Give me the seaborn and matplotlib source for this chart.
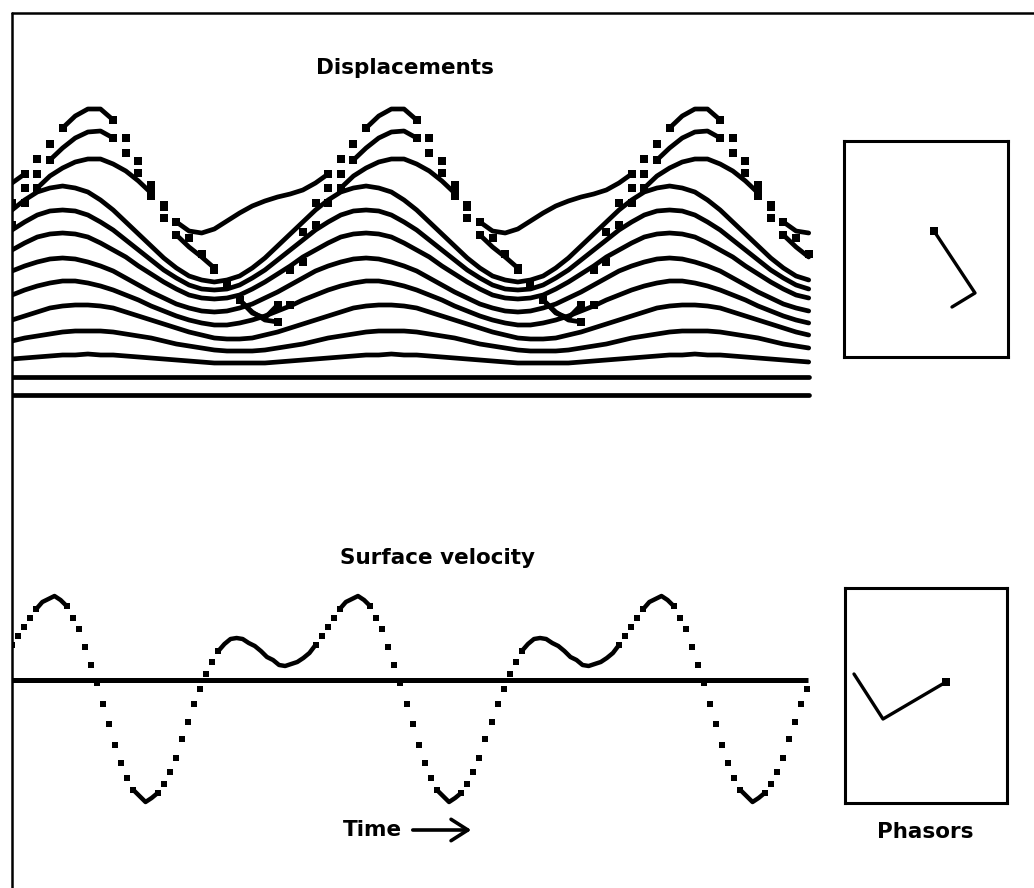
import numpy as np
import pandas as pd
import matplotlib
matplotlib.use("Agg")
import matplotlib.pyplot as plt
from matplotlib.lines import Line2D
from matplotlib.patches import FancyArrowPatch
import seaborn as sns

sns.set_theme(style="white")
plt.rcParams["font.family"] = ["DejaVu Sans"]

W, H, DPI = 1034, 888, 100

# ---------------- data ----------------
# one period of each depth trace, 24 samples per period (trace level, downward)
trace_01 = [183, 174, 159, 144, 128, 116, 109, 109, 120, 138, 161, 185, 205, 222, 231, 233, 229, 221, 213, 206, 201, 197, 194, 190]
trace_02 = [203, 188, 174, 160, 148, 138, 132, 131, 138, 153, 173, 196, 218, 235, 247, 257, 268, 283, 300, 313, 318, 305, 270, 232]
trace_03 = [225, 203, 188, 176, 168, 162, 159, 159, 164, 171, 181, 193, 207, 222, 238, 254, 270, 286, 300, 312, 320, 322, 305, 262]
trace_04 = [210, 200, 192, 188, 186, 188, 192, 200, 210, 222, 234, 246, 258, 268, 276, 280, 282, 280, 276, 268, 258, 246, 234, 222]
trace_05 = [230, 222, 215, 211, 210, 211, 215, 222, 230, 240, 250, 260, 270, 278, 285, 289, 290, 289, 285, 278, 270, 260, 250, 240]
trace_06 = [250, 243, 237, 234, 233, 234, 237, 243, 250, 257, 266, 274, 282, 289, 295, 298, 299, 298, 295, 289, 282, 274, 266, 257]
trace_07 = [271, 266, 262, 259, 258, 259, 262, 266, 271, 278, 285, 292, 298, 304, 308, 311, 312, 311, 308, 304, 298, 292, 285, 278]
trace_08 = [295, 290, 286, 283, 281, 281, 283, 286, 290, 295, 300, 306, 311, 316, 320, 323, 325, 325, 323, 320, 316, 311, 306, 300]
trace_09 = [320, 316, 312, 308, 306, 305, 305, 306, 308, 312, 316, 320, 324, 328, 332, 335, 338, 339, 339, 338, 335, 332, 328, 324]
trace_10 = [341, 338, 336, 334, 332, 331, 331, 331, 332, 334, 336, 338, 341, 344, 346, 348, 350, 351, 351, 351, 350, 348, 346, 344]
trace_11 = [359, 358, 357, 356, 355, 355, 354, 355, 355, 356, 357, 358, 359, 360, 361, 362, 363, 363, 363, 363, 363, 362, 361, 360]
trace_12 = [377, 377, 377, 377, 377, 377, 377, 377, 377, 377, 377, 377, 377, 377, 377, 377, 377, 377, 377, 377, 377, 377, 377, 377]
trace_13 = [395, 395, 395, 395, 395, 395, 395, 395, 395, 395, 395, 395, 395, 395, 395, 395, 395, 395, 395, 395, 395, 395, 395, 395]
traces = [trace_01, trace_02, trace_03, trace_04, trace_05, trace_06, trace_07,
          trace_08, trace_09, trace_10, trace_11, trace_12, trace_13]

# one period of the surface velocity, 50 samples per period
velocity_period = [35, 44, 53, 62, 71, 78, 81, 84, 80, 74, 62, 51, 33, 15, -3, -24, -44, -65,
                   -83, -98, -110, -116, -122, -118, -113, -104, -92, -78, -59, -42, -24, -9,
                   6, 18, 29, 36, 41, 42, 41, 37, 34, 29, 23, 20, 15, 14, 16, 18, 22, 27]

disp_samples = 64      # the record repeats every period; 2.63 periods are shown
vel_samples = 132

# phasors (mode 1, mode 2), x right / y up
phasor_disp = [(41, -62), (-23, -14)]
phasor_vel = [(-63, -37), (-29, 45)]

# ---------------- helpers ----------------
fig = plt.figure(figsize=(W / DPI, H / DPI), dpi=DPI)
fig.patch.set_facecolor("white")


def px_axes(x0, y0, x1, y1):
    return fig.add_axes([x0 / W, 1 - y1 / H, (x1 - x0) / W, (y1 - y0) / H])


def segment_frame(t, y, thr, name):
    brk = np.abs(np.diff(y)) > thr
    seg = np.concatenate([[0], np.cumsum(brk)])
    near_break = np.zeros(len(y), dtype=bool)
    near_break[:-1] |= brk
    near_break[1:] |= brk
    return pd.DataFrame({"t": t, "y": y, "unit": [f"{name}_{s}" for s in seg],
                         "dot": near_break})


# ---------------- displacement panel ----------------
ax_d = px_axes(12, 90, 812, 405)
t_d = np.arange(disp_samples) / 24.0
frames = []
for k, tr in enumerate(traces):
    y = np.resize(np.array(tr, dtype=float), disp_samples)
    frames.append(segment_frame(t_d, y, 13, f"L{k}"))
df_d = pd.concat(frames, ignore_index=True)
sns.lineplot(data=df_d, x="t", y="y", units="unit", estimator=None, sort=False,
             color="black", lw=3.4, ax=ax_d, legend=False)
sns.scatterplot(data=df_d[df_d["dot"]], x="t", y="y", marker="s", s=27, color="black",
                linewidth=0, ax=ax_d, legend=False)
ax_d.set_xlim(0, 800 / 303.5)
ax_d.set_ylim(405, 90)
ax_d.axis("off")

# ---------------- velocity panel ----------------
ax_v = px_axes(12, 585, 812, 810)
t_v = np.arange(vel_samples) / 50.0
v = np.resize(np.array(velocity_period, dtype=float), vel_samples)
df_v = segment_frame(t_v, v, 8, "v")
ax_v.plot([0, t_v[-1] + 0.004], [0, 0], color="black", lw=3.6, solid_capstyle="butt")
sns.lineplot(data=df_v, x="t", y="y", units="unit", estimator=None, sort=False,
             color="black", lw=3.2, ax=ax_v, legend=False)
sns.scatterplot(data=df_v[df_v["dot"]], x="t", y="y", marker="s", s=17, color="black",
                linewidth=0, ax=ax_v, legend=False)
ax_v.set_xlim(0, 800 / 303.5)
ax_v.set_ylim(-130, 95)
ax_v.axis("off")


# ---------------- phasor boxes ----------------
def phasor_box(box, origin, vecs):
    x0, y0, x1, y1 = box
    ox, oy = origin
    ax = px_axes(x0, y0, x1, y1)
    px = np.cumsum([0] + [vv[0] for vv in vecs])
    py = np.cumsum([0] + [vv[1] for vv in vecs])
    dfp = pd.DataFrame({"x": px, "y": py, "u": "p"})
    sns.lineplot(data=dfp, x="x", y="y", units="u", estimator=None, sort=False,
                 color="black", lw=2.4, ax=ax, legend=False)
    sns.scatterplot(x=[px[0]], y=[py[0]], marker="s", s=40, color="black",
                    linewidth=0, ax=ax, legend=False)
    ax.set_xlim(x0 - ox, x1 - ox)
    ax.set_ylim(oy - y1, oy - y0)
    ax.set_xticks([])
    ax.set_yticks([])
    ax.set_xlabel("")
    ax.set_ylabel("")
    for sp in ax.spines.values():
        sp.set_visible(True)
        sp.set_color("black")
        sp.set_linewidth(2.2)
    return ax


phasor_box((844, 141, 1008, 357), (934, 231), phasor_disp)
phasor_box((845, 588, 1007, 803), (946, 682), phasor_vel)

# ---------------- frame and text ----------------
fig.add_artist(Line2D([12 / W, 12 / W], [0, 1 - 13 / H], transform=fig.transFigure,
                      color="black", lw=1.8))
fig.add_artist(Line2D([12 / W, 1], [1 - 13 / H, 1 - 13 / H], transform=fig.transFigure,
                      color="black", lw=1.8))

tkw = dict(ha="center", va="center", fontsize=15.5, fontweight="bold", color="black")
fig.text(405 / W, 1 - 68 / H, "Displacements", **tkw)
fig.text(437 / W, 1 - 558 / H, "Surface velocity", **tkw)
fig.text(372 / W, 1 - 830 / H, "Time", **tkw)
fig.text(925 / W, 1 - 832 / H, "Phasors", **tkw)
fig.add_artist(FancyArrowPatch((410 / W, 1 - 830 / H), (474 / W, 1 - 830 / H),
                               transform=fig.transFigure,
                               arrowstyle="->,head_length=0.55,head_width=0.35",
                               mutation_scale=22, lw=2.6, color="black"))

fig.savefig("out.png", dpi=DPI, facecolor="white")
